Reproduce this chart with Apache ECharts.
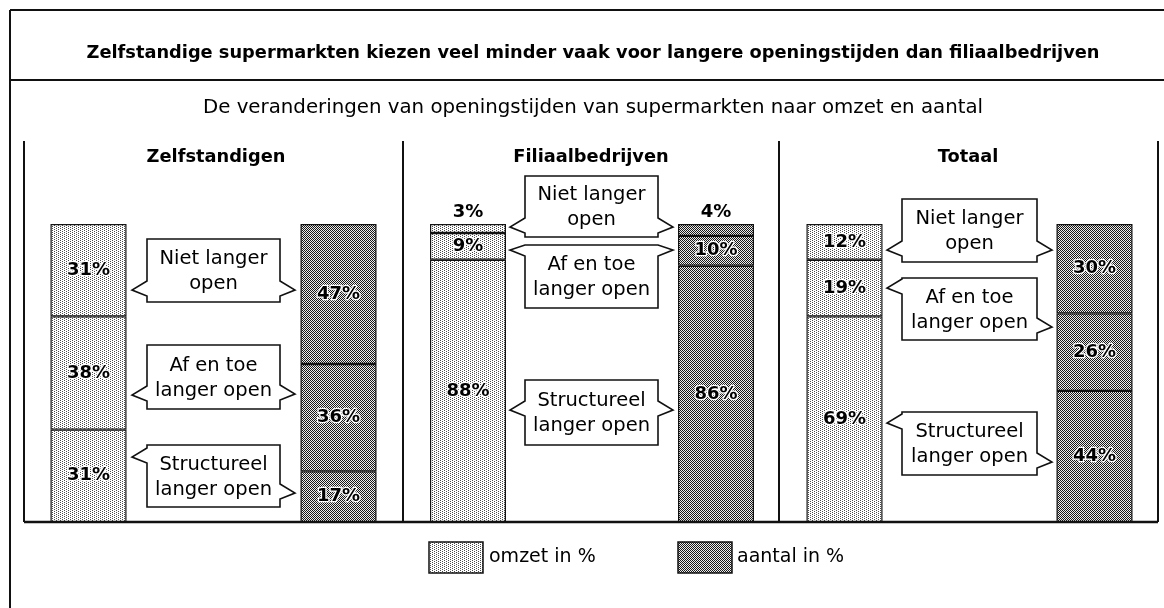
<!DOCTYPE html>
<html><head><meta charset="utf-8">
<script src="https://cdn.jsdelivr.net/npm/echarts@6/dist/echarts.min.js"></script>
<style>html,body{margin:0;padding:0;background:#fff}#c{width:1164px;height:608px}</style>
</head><body><div id="c"></div>
<script>
// ---- text ----
const titleText = 'Zelfstandige supermarkten kiezen veel minder vaak voor langere openingstijden dan filiaalbedrijven';
const subtitleText = 'De veranderingen van openingstijden van supermarkten naar omzet en aantal';
const panels = ['Zelfstandigen', 'Filiaalbedrijven', 'Totaal'];
const measures = ['omzet in %', 'aantal in %'];
const segments = ['Niet langer open', 'Af en toe langer open', 'Structureel langer open'];
const segmentLines = ['Niet langer\nopen', 'Af en toe\nlanger open', 'Structureel\nlanger open'];
// ---- values per panel: [omzet, aantal] ----
const nietLangerOpen = [[31, 47], [3, 4], [12, 30]];
const afEnToeLangerOpen = [[38, 36], [9, 10], [19, 26]];
const structureelLangerOpen = [[31, 17], [88, 86], [69, 44]];

// ---- layout (pixels) ----
const FONT = 'DejaVu Sans';
const gridPos = [{left: 88.5, width: 250}, {left: 468, width: 248}, {left: 844.5, width: 250}];
const panelCenters = [216, 591, 968];
const calloutX = [[147, 280], [525, 658], [902, 1037]];
// per panel, per segment (top->bottom order): [y1, y2, leftPointerY, rightPointerY]
const calloutY = [
  [[239, 302, 290, 290], [345, 409, 395, 394], [445, 507, 457, 493]],
  [[176, 237, 227, 227], [245, 308, 250, 250], [380, 445, 410, 410]],
  [[199, 262, 250, 250], [278, 340, 288, 327], [412, 475, 423, 462]]
];

function makePattern(kind) {
  const c = document.createElement('canvas');
  const ctx = c.getContext('2d');
  if (kind === 'light') {
    c.width = 4; c.height = 2;
    ctx.fillStyle = '#ffffff'; ctx.fillRect(0, 0, 4, 2);
    ctx.fillStyle = '#4a4a4a'; ctx.fillRect(0, 0, 1, 1); ctx.fillRect(2, 1, 1, 1);
  } else {
    c.width = 2; c.height = 2;
    ctx.fillStyle = '#ededed'; ctx.fillRect(0, 0, 2, 2);
    ctx.fillStyle = '#181818'; ctx.fillRect(0, 0, 1, 1); ctx.fillRect(1, 1, 1, 1);
  }
  return c;
}
const lightPat = {image: makePattern('light'), repeat: 'repeat'};
const darkPat = {image: makePattern('dark'), repeat: 'repeat'};
const patFor = [lightPat, darkPat];

const chart = echarts.init(document.getElementById('c'), null, {renderer: 'canvas'});

const stackOrder = [
  {name: segments[2], vals: structureelLangerOpen},
  {name: segments[1], vals: afEnToeLangerOpen},
  {name: segments[0], vals: nietLangerOpen}
];

const labelStyle = {
  show: true, position: 'inside', formatter: '{c}%',
  fontFamily: FONT, fontWeight: 'bold', fontSize: 18, color: '#000',
  textBorderColor: '#fff', textBorderWidth: 2.5
};

const series = [];
panels.forEach((p, i) => {
  stackOrder.forEach(s => {
    series.push({
      type: 'bar', name: s.name, xAxisIndex: i, yAxisIndex: i, stack: 'p' + i,
      barWidth: 76, clip: false, silent: true,
      itemStyle: {borderColor: '#111', borderWidth: 1.2},
      label: labelStyle,
      data: s.vals[i].map((v, j) => {
        const d = {value: v, itemStyle: {color: patFor[j]}};
        if (v < 6) d.label = {position: 'top', distance: 3, textBorderWidth: 0};
        return d;
      })
    });
  });
});

const graphics = [];
function line(x1, y1, x2, y2, w) {
  graphics.push({type: 'line', silent: true, shape: {x1, y1, x2, y2}, style: {stroke: '#111', lineWidth: w || 2}});
}
line(10, 10, 1164, 10, 2);
line(10, 80, 1164, 80, 2);
line(10, 10, 10, 608, 2);
[24, 403, 779, 1158].forEach(x => line(x, 141, x, 522, 2));
line(24, 522, 1158, 522, 2.5);

graphics.push({type: 'text', silent: true, x: 593, y: 53, style: {text: titleText, fontFamily: FONT, fontWeight: 'bold', fontSize: 17.8, fill: '#000', align: 'center', verticalAlign: 'middle'}});
graphics.push({type: 'text', silent: true, x: 593, y: 108, style: {text: subtitleText, fontFamily: FONT, fontSize: 19.8, fill: '#000', align: 'center', verticalAlign: 'middle'}});
panels.forEach((p, i) => {
  graphics.push({type: 'text', silent: true, x: panelCenters[i], y: 157, style: {text: p, fontFamily: FONT, fontWeight: 'bold', fontSize: 17.8, fill: '#000', align: 'center', verticalAlign: 'middle'}});
});

// callouts
panels.forEach((p, i) => {
  const [x1, x2] = calloutX[i];
  calloutY[i].forEach((cy, k) => {
    const [y1, y2, lp, rp] = cy;
    const lt = Math.max(y1, lp - 9), lb = Math.min(y2, lp + 6);
    const rt = Math.max(y1, rp - 9), rb = Math.min(y2, rp + 6);
    const pts = [[x1, y1], [x2, y1], [x2, rt], [x2 + 15, rp], [x2, rb], [x2, y2], [x1, y2], [x1, lb], [x1 - 15, lp], [x1, lt]];
    graphics.push({type: 'polygon', silent: true, shape: {points: pts}, style: {fill: '#fff', stroke: '#111', lineWidth: 1.6}, z: 10});
    graphics.push({type: 'text', silent: true, x: (x1 + x2) / 2, y: (y1 + y2) / 2 + 1, z: 11,
      style: {text: segmentLines[k], fontFamily: FONT, fontSize: 19.5, lineHeight: 25, fill: '#000', align: 'center', verticalAlign: 'middle'}});
  });
});

// legend
const legendPos = [{x: 429, tx: 489}, {x: 678, tx: 737}];
measures.forEach((m, j) => {
  graphics.push({type: 'rect', silent: true, shape: {x: legendPos[j].x, y: 542, width: 54, height: 31}, style: {fill: patFor[j], stroke: '#111', lineWidth: 1.5}});
  graphics.push({type: 'text', silent: true, x: legendPos[j].tx, y: 557, style: {text: m, fontFamily: FONT, fontSize: 19, fill: '#000', align: 'left', verticalAlign: 'middle'}});
});

chart.setOption({
  animation: false,
  backgroundColor: '#fff',
  grid: gridPos.map(g => ({left: g.left, width: g.width, top: 224, height: 298, containLabel: false})),
  xAxis: panels.map((p, i) => ({gridIndex: i, type: 'category', data: measures, boundaryGap: false, show: false})),
  yAxis: panels.map((p, i) => ({gridIndex: i, type: 'value', min: 0, max: 100, show: false})),
  series: series,
  graphic: {elements: graphics}
});
</script>
</body></html>
